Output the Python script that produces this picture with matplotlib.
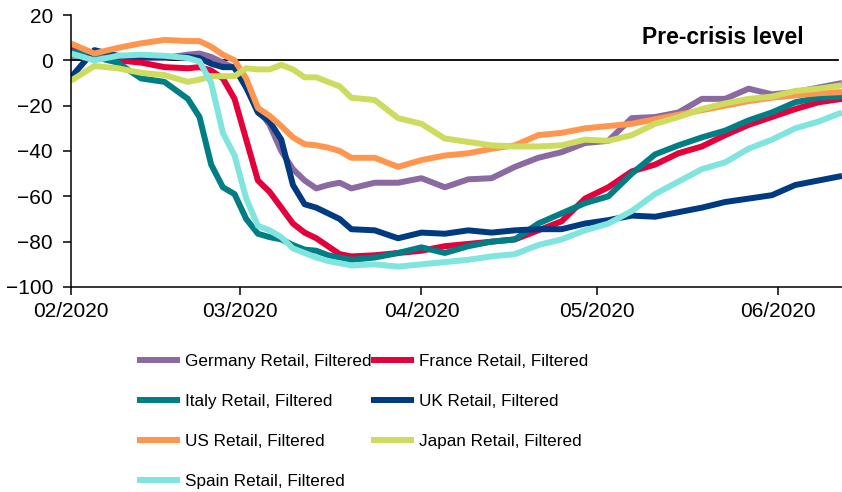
import numpy as np
import pandas as pd
import matplotlib
matplotlib.use('Agg')
import matplotlib.pyplot as plt
import matplotlib.dates as mdates
from matplotlib.font_manager import FontProperties

plt.rcParams['font.family'] = ['Liberation Sans', 'DejaVu Sans']

dates = pd.to_datetime([
    '2020-02-01', '2020-02-05', '2020-02-09', '2020-02-13', '2020-02-17', '2020-02-21',
    '2020-02-23', '2020-02-25', '2020-02-27', '2020-02-29', '2020-03-02', '2020-03-04',
    '2020-03-06', '2020-03-08', '2020-03-10', '2020-03-12', '2020-03-14', '2020-03-16',
    '2020-03-18', '2020-03-20', '2020-03-24', '2020-03-28', '2020-04-01', '2020-04-05',
    '2020-04-09', '2020-04-13', '2020-04-17', '2020-04-21', '2020-04-25', '2020-04-29',
    '2020-05-03', '2020-05-07', '2020-05-11', '2020-05-15', '2020-05-19', '2020-05-23',
    '2020-05-27', '2020-05-31', '2020-06-04', '2020-06-08', '2020-06-12'])

germany = [2, 2, 1, 1, 1, 2.5, 3, 1.5, -1, -3.5, -12, -21, -28.5, -40, -48, -53, -56.5, -55,
           -54, -56.5, -54, -54, -52, -56, -52.5, -52, -47, -43, -40.5, -36.5,
           -35.5, -25.5, -25, -23, -17, -17, -12.5, -15, -14, -12, -10]
france = [5.5, 1, 0, -1, -3, -3.5, -3, -4.5, -8, -17, -35, -53, -58, -65, -72, -76, -78.5, -82,
          -85.5, -86.5, -86, -85, -84, -82, -81, -80, -79, -75, -71, -61,
          -56, -49, -46, -41, -38, -33, -28.5, -25, -21.5, -18.5, -17]
italy = [4, 1.5, -1, -8, -9.5, -17, -25, -46, -56, -59, -70, -76.5, -78, -79, -81.5, -83.5, -84, -86,
         -87, -88, -87, -85, -82.5, -85, -82, -80, -79, -72, -67.5, -63,
         -60, -50, -41.5, -37.5, -34, -31, -26.5, -23, -18.5, -16.5, -16]
uk = [-7.5, 4.5, 2, 1.5, 1.5, 1.5, 1, -1.5, -3, -3, -12, -23, -27, -35, -55, -63.5, -65, -67.5,
      -70, -74.5, -75, -78.5, -76, -76.5, -75, -76, -75, -74.5, -74.5, -72,
      -70.5, -68.5, -69, -67, -65, -62.5, -61, -59.5, -55, -53, -51]
us = [7.4, 3, 5.5, 7.5, 9, 8.5, 8.5, 6, 2.5, 0, -8, -21, -24.5, -29, -34, -37, -37.5, -38.5,
      -40, -43, -43, -47, -44, -42, -41, -39, -37.5, -33, -32, -30,
      -29, -28, -26, -24, -22, -20, -18, -16.5, -15.5, -14.5, -14]
japan = [-9, -2.5, -3.5, -5.5, -6.5, -9.5, -8.5, -7, -7, -7, -3.5, -4, -4, -2, -4, -7.5, -7.5, -9.5,
         -11.5, -16.5, -17.5, -25.5, -28, -34.5, -36, -37.5, -38, -38, -37.5, -35,
         -35.5, -33, -28, -25, -21.5, -19, -17, -16, -13.5, -12.5, -11]
spain = [3, 0, 2, 2.5, 2, 1, -0.5, -10, -32, -42, -61, -73, -75, -78, -83, -85, -87, -88.5,
         -89.5, -90.5, -90, -91, -90, -89, -88, -86.5, -85.5, -81.5, -79, -75,
         -72, -66.5, -59, -53.5, -48, -45, -39, -35, -30, -27, -23]

labels = ['Germany Retail, Filtered', 'France Retail, Filtered', 'Italy Retail, Filtered',
          'UK Retail, Filtered', 'US Retail, Filtered', 'Japan Retail, Filtered',
          'Spain Retail, Filtered']
series = [germany, france, italy, uk, us, japan, spain]
colors = ['#8a6aa0', '#e4003b', '#007e86', '#003a80', '#ff9650', '#cddc5f', '#80e4df']

fig = plt.figure(figsize=(8.42, 4.92), dpi=100)
ax = fig.add_axes([71/842, 1-287/492, (842-71)/842, (287-15)/492])

lines = []
for vals, c, lab in zip(series, colors, labels):
    l, = ax.plot(dates, vals, color=c, lw=4.3, label=lab, solid_capstyle='butt')
    lines.append(l)

ax.axhline(0, color='black', lw=1.3, xmax=0.995, zorder=1)
ax.text(0.845, 0.918, 'Pre-crisis level', transform=ax.transAxes, ha='center', va='center',
        fontsize=16.5, fontweight='bold')

ax.set_xlim(pd.Timestamp('2020-02-01'), pd.Timestamp('2020-06-12'))
ax.set_ylim(-100, 20)
ax.set_yticks(np.arange(-100, 21, 20))
ax.xaxis.set_major_locator(mdates.MonthLocator())
ax.xaxis.set_major_formatter(mdates.DateFormatter('%m/%Y'))
ax.tick_params(labelsize=15, direction='out', length=6, width=1.1, color='black')
ax.tick_params(axis='y', pad=7)
ax.tick_params(axis='x', pad=5)
for s in ['top', 'right']:
    ax.spines[s].set_visible(False)
for s in ['left', 'bottom']:
    ax.spines[s].set_linewidth(1.1)

# legend is row-major in the picture, matplotlib fills columns first
order = [0, 2, 4, 6, 1, 3, 5]
leg_font = FontProperties(family=['Liberation Sans Narrow', 'Liberation Sans'], size=12.3)
fig.legend([lines[i] for i in order], [labels[i] for i in order], ncol=2,
           loc='upper left', bbox_to_anchor=(137/842, 1-354/492), frameon=False,
           prop=leg_font, borderpad=0, borderaxespad=0, handlelength=2.5,
           handletextpad=0.3, columnspacing=0.0, labelspacing=1.47)

plt.savefig('out.png', dpi=100)
